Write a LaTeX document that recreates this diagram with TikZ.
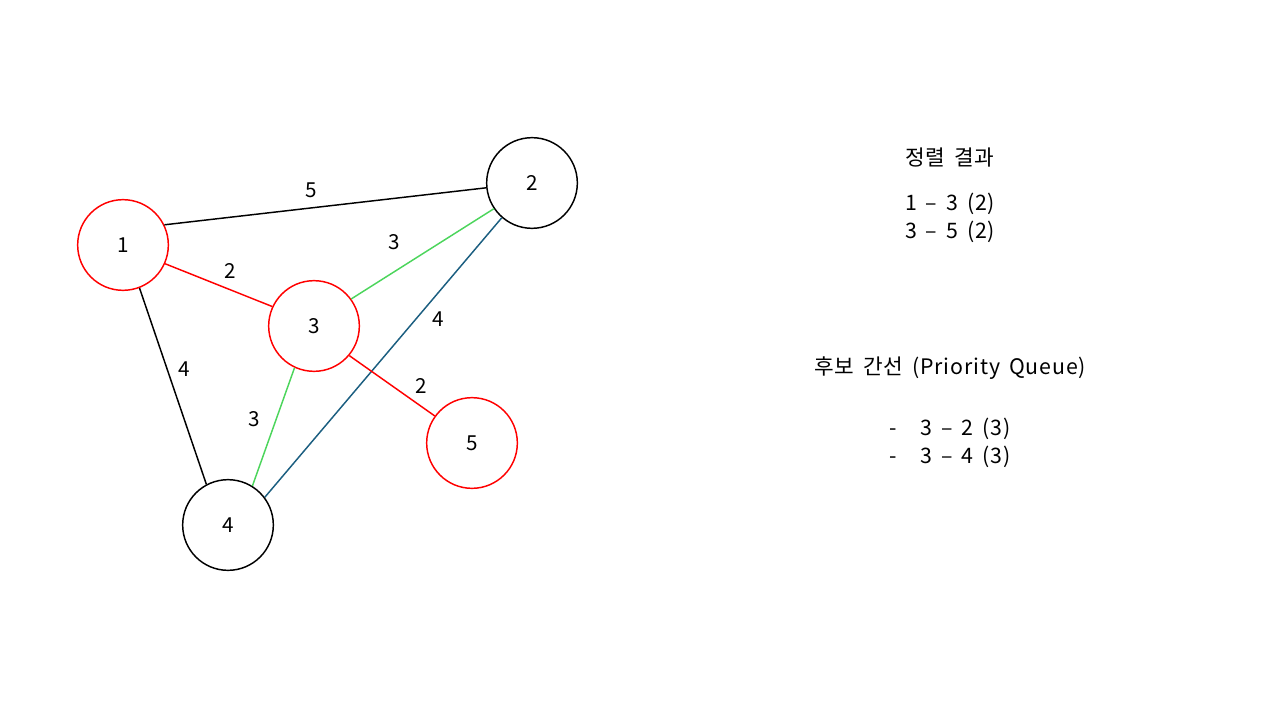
\documentclass[tikz,border=0pt]{standalone}
\usepackage{fontspec}
\setmainfont{Noto Sans CJK KR}
\newfontfamily\widefont[LetterSpace=4]{Noto Sans CJK KR}
\definecolor{vred}{HTML}{FF0000}
\definecolor{egreen}{HTML}{4CD55C}
\definecolor{eblue}{HTML}{1B5E80}
\newcommand\widespaces{\spaceskip=0.42em\relax}
\begin{document}
\begin{tikzpicture}[x=0.75pt,y=-0.75pt,
  vtx/.style={circle,draw=black,line width=1.1pt,minimum size=68pt,inner sep=0pt,font=\fontsize{15.5}{19}\selectfont},
  vsel/.style={vtx,draw=vred},
  edge/.style={line width=1.1pt},
  wlab/.style={inner sep=0pt,font=\fontsize{15.5}{19}\selectfont},
  txt/.style={inner sep=0pt,font=\widefont\fontsize{16}{21}\selectfont,align=center,execute at begin node=\widespaces}]
\useasboundingbox (0,0) rectangle (1280,720);
\node[vsel] (n1) at (123,245) {1};
\node[vtx]  (n2) at (532,183) {2};
\node[vsel] (n3) at (314,326) {3};
\node[vtx]  (n4) at (228,525) {4};
\node[vsel] (n5) at (472,443) {5};
\draw[edge,black] (n1.26) -- (n2.186);
\draw[edge,vred] (n1.-24) -- (n3.155);
\draw[edge,black] (n1.-69) -- (n4.118);
\draw[edge,egreen] (n3.36) -- (n2.214);
\draw[edge,egreen] (n3.-115) -- (n4.58);
\draw[edge,eblue] (n2.229) -- (n4.37);
\draw[edge,vred] (n3.-40) -- (n5.144);
\node[wlab] (l12) at (311,190) {5};
\node[wlab] (l13) at (230,271) {2};
\node[wlab] (l23) at (394,242) {3};
\node[wlab] (l24) at (438,319) {4};
\node[wlab] (l14) at (184,369) {4};
\node[wlab] (l34) at (254,419) {3};
\node[wlab] (l35) at (421,386) {2};
\node[txt] (t1) at (950,158) {정렬 결과};
\node[txt] (t2) at (950,218) {1 – 3 (2)\\3 – 5 (2)};
\node[txt] (t3) at (950,368) {후보 간선 (Priority Queue)};
\node[txt] (t4) at (950,443) {-\hspace{18pt}3 – 2 (3)\\-\hspace{18pt}3 – 4 (3)};
\end{tikzpicture}
\end{document}
